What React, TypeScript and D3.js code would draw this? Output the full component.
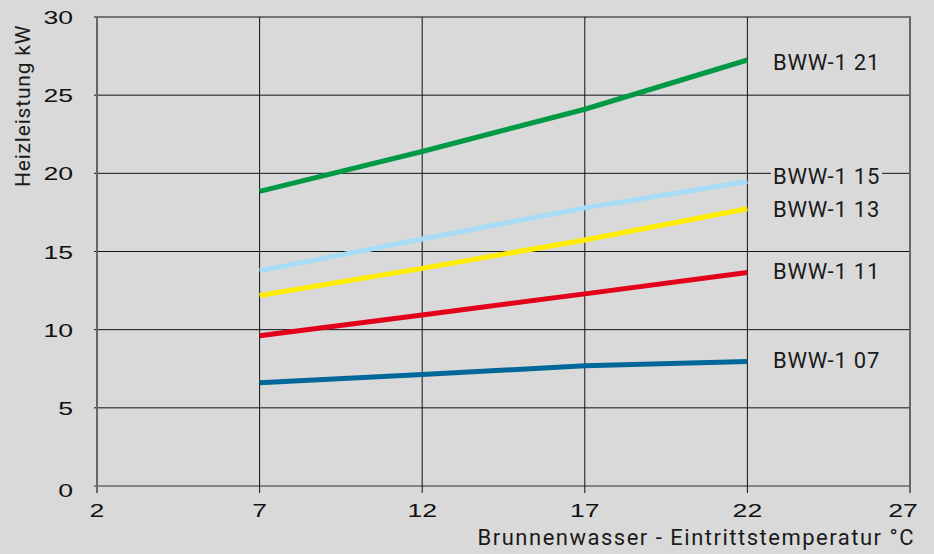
import * as d3 from "d3";
import React from "react";

// water inlet temperature (°C)
const temps = [7, 12, 17, 22];

const series = [
  { name: "BWW-1 21", color: "#009a46", values: [18.85, 21.4, 24.1, 27.25] },
  { name: "BWW-1 15", color: "#a6dcf6", values: [13.76, 15.8, 17.79, 19.48] },
  { name: "BWW-1 13", color: "#ffec00", values: [12.18, 13.92, 15.74, 17.73] },
  { name: "BWW-1 11", color: "#e3001b", values: [9.61, 10.94, 12.29, 13.66] },
  { name: "BWW-1 07", color: "#00679b", values: [6.6, 7.13, 7.69, 7.96] },
];

const xTicks = [2, 7, 12, 17, 22, 27];
const yTicks = [0, 5, 10, 15, 20, 25, 30];

// where each curve label sits (kW value of the baseline)
const labelAt = [26.6, 19.32, 17.2, 13.24, 7.55];

const W = 934;
const H = 554;
const bg = "#d9d9d9";

const App: React.FC = () => {
  const x = d3.scaleLinear().domain([2, 27]).range([97, 910]);
  const y = d3.scaleLinear().domain([0, 30]).range([486, 17]);

  const line = d3
    .line<number>()
    .x((_, i) => x(temps[i]))
    .y((d) => y(d));

  const tickFont = "'Liberation Sans', Arial, sans-serif";
  const labelFont = "Roboto, 'Noto Sans', sans-serif";

  return (
    <div style={{ position: "absolute", left: 0, top: 0 }}>
      <svg width={W} height={H} style={{ display: "block", background: bg }}>
        {/* horizontal grid */}
        {yTicks.map((t) => (
          <line
            key={"h" + t}
            x1={94}
            x2={911}
            y1={y(t)}
            y2={y(t)}
            stroke={t === 0 ? "#666" : "#111"}
            strokeWidth={t === 0 ? 1.6 : 1}
          />
        ))}
        {/* vertical grid */}
        {xTicks.map((t) => (
          <line
            key={"v" + t}
            x1={x(t)}
            x2={x(t)}
            y1={y(30)}
            y2={y(0) + 7}
            stroke={t === 2 || t === 27 ? "#666" : "#111"}
            strokeWidth={t === 2 || t === 27 ? 2 : 1}
          />
        ))}

        {/* curves */}
        {series.map((s) => (
          <path
            key={s.name}
            d={line(s.values) ?? ""}
            fill="none"
            stroke={s.color}
            strokeWidth={5}
          />
        ))}

        {/* curve labels */}
        {series.map((s, i) => (
          <g key={"l" + s.name}>
            {i === 1 && (
              <rect x={771} y={y(labelAt[i]) - 18} width={111} height={22} fill={bg} />
            )}
            <text
              x={773}
              y={y(labelAt[i])}
              fontFamily={labelFont}
              fontSize={22}
              letterSpacing={0.8}
              fill="#1a1a1a"
            >
              {s.name}
            </text>
          </g>
        ))}

        {/* y tick labels */}
        {yTicks.map((t) => (
          <text
            key={"yt" + t}
            transform={`translate(73,${y(t) + 7 + (t === 0 ? 4 : 0)}) scale(1.4,1)`}
            textAnchor="end"
            fontFamily={tickFont}
            fontSize={19}
            fill="#111"
          >
            {t}
          </text>
        ))}
        {/* x tick labels */}
        {xTicks.map((t) => (
          <text
            key={"xt" + t}
            transform={`translate(${x(t) - (t === 27 ? 7 : 0)},517) scale(1.4,1)`}
            textAnchor="middle"
            fontFamily={tickFont}
            fontSize={19}
            fill="#111"
          >
            {t}
          </text>
        ))}

        {/* axis titles */}
        <text
          x={915}
          y={545}
          textAnchor="end"
          fontFamily={labelFont}
          fontSize={22}
          letterSpacing={1.5}
          fill="#1a1a1a"
        >
          Brunnenwasser - Eintrittstemperatur °C
        </text>
        <text
          transform="translate(30,187) rotate(-90)"
          fontFamily={labelFont}
          fontSize={21}
          letterSpacing={0.8}
          fill="#1a1a1a"
        >
          Heizleistung kW
        </text>
      </svg>
    </div>
  );
};

export default App;
